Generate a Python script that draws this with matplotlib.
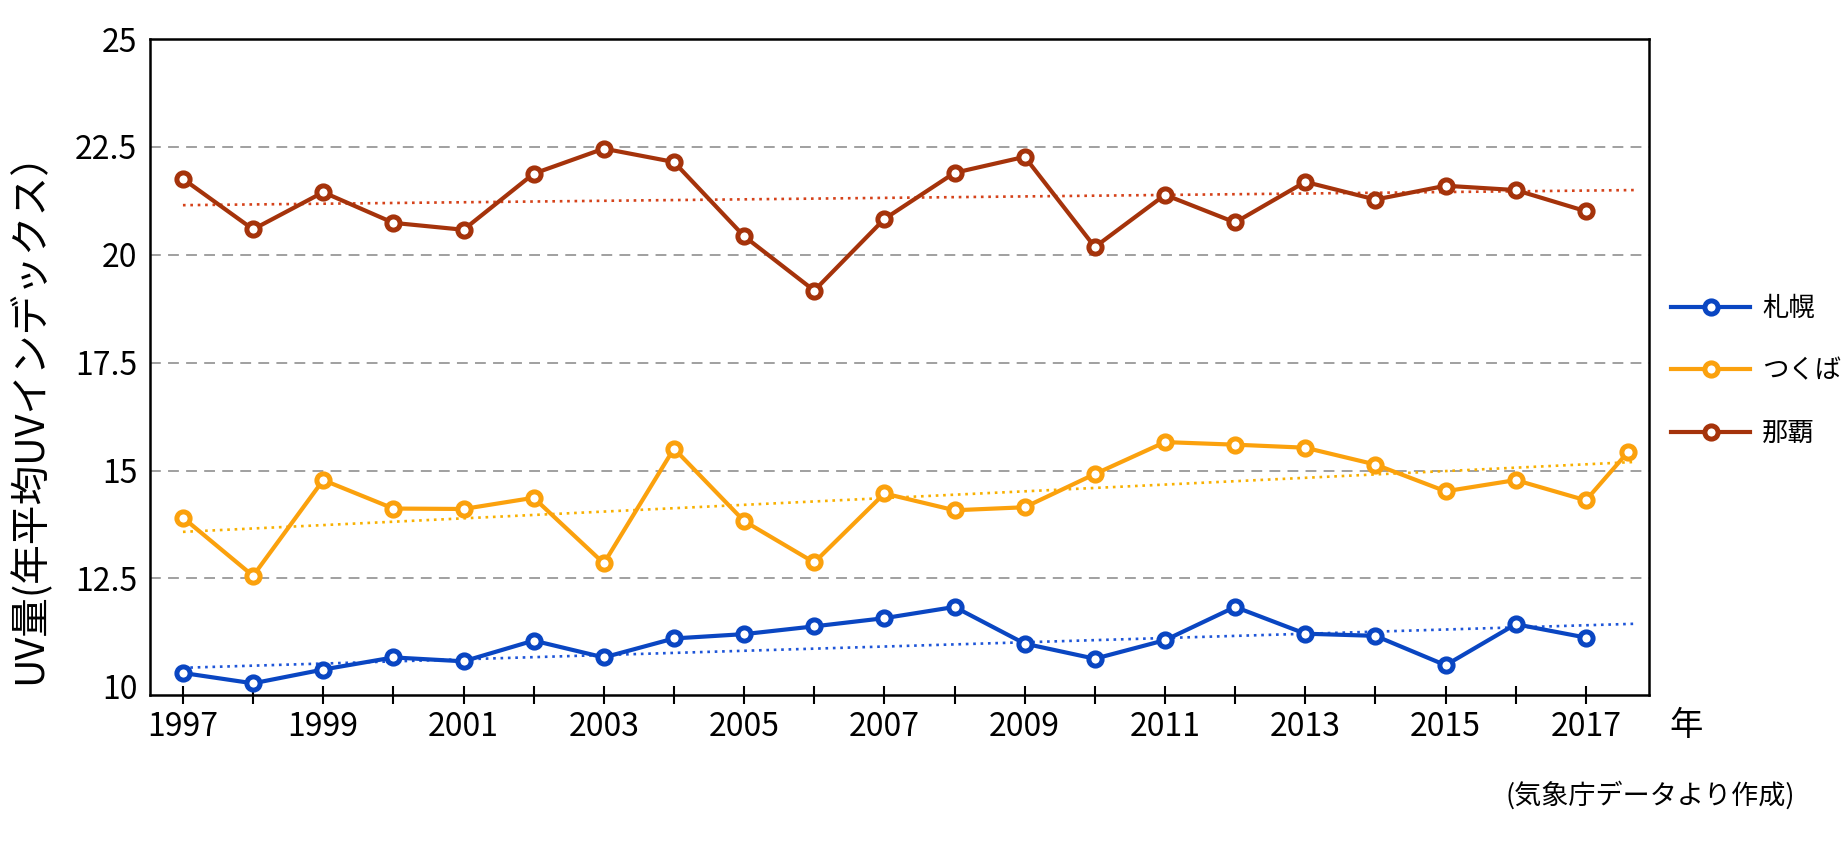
import numpy as np
import matplotlib
matplotlib.use("Agg")
import matplotlib.pyplot as plt

plt.rcParams['font.family'] = ['Noto Sans CJK JP', 'DejaVu Sans']

# Annual mean UV index
years = list(range(1997, 2018))
sapporo = [10.31, 10.07, 10.39, 10.67, 10.58, 11.06, 10.67, 11.11, 11.21, 11.39, 11.58,
           11.84, 10.99, 10.64, 11.07, 11.84, 11.22, 11.17, 10.49, 11.44, 11.13]
tsukuba_years = years + [2017.6]
tsukuba = [13.91, 12.56, 14.78, 14.12, 14.11, 14.37, 12.85, 15.51, 13.83, 12.87, 14.47,
           14.08, 14.15, 14.92, 15.66, 15.60, 15.53, 15.14, 14.52, 14.78, 14.31, 15.43]
naha = [21.76, 20.59, 21.45, 20.74, 20.58, 21.88, 22.46, 22.15, 20.43, 19.17, 20.83,
        21.90, 22.27, 20.18, 21.39, 20.75, 21.69, 21.28, 21.60, 21.50, 21.01]

# trend lines (start / end values)
trend_x = [1997, 2017.7]
sapporo_trend = [10.43, 11.45]
tsukuba_trend = [13.58, 15.20]
naha_trend = [21.15, 21.50]

labels = ['札幌', 'つくば', '那覇']
yticks = [10, 12.5, 15, 17.5, 20, 22.5, 25]
ytick_labels = ['10', '12.5', '15', '17.5', '20', '22.5', '25']

c_blue = '#0a46c2'
c_orange = '#fba10d'
c_red = '#a5330b'

fig = plt.figure(figsize=(18.47, 8.52), dpi=100)
ax = fig.add_axes([0.0812, 0.1843, 0.8116, 0.7699])

# dashed grid
for v in yticks[1:-1]:
    ax.axhline(v, color='#999999', lw=1.3, ls=(0, (6, 4)), zorder=1)

# trend lines
ax.plot(trend_x, sapporo_trend, color='#1e55d8', lw=1.9, ls=(0, (1, 1.8)), zorder=2)
ax.plot(trend_x, tsukuba_trend, color='#f8b000', lw=1.9, ls=(0, (1, 1.8)), zorder=2)
ax.plot(trend_x, naha_trend, color='#d5421a', lw=1.9, ls=(0, (1, 1.8)), zorder=2)

mk = dict(marker='o', ms=9.5, mew=3.6, lw=3, zorder=3)
ax.plot(years, sapporo, color=c_blue, mfc='white', label=labels[0], **mk)
ax.plot(tsukuba_years, tsukuba, color=c_orange, mfc='white', label=labels[1], **mk)
ax.plot(years, naha, color=c_red, mfc='#c2aca6', label=labels[2], **mk)

ax.set_xlim(1996.53, 2017.9)
ax.set_ylim(9.8, 25)
ax.set_yticks(yticks)
ax.set_yticklabels(ytick_labels)
ax.set_xticks(years)
ax.set_xticklabels([str(y) if y % 2 == 1 else '' for y in years])

ax.tick_params(axis='y', length=0, pad=9, labelsize=23)
ax.tick_params(axis='x', direction='inout', length=13, width=1.5, pad=5, labelsize=23)
for s in ax.spines.values():
    s.set_linewidth(1.8)
    s.set_color('black')

fig.text(30 / 1847, 0.521, 'UV量(年平均UVインデックス）', rotation=90,
         ha='center', va='center', fontsize=28.5)
fig.text(1686 / 1847, 1 - 725 / 852, '年', ha='center', va='center', fontsize=24)
fig.text(1650 / 1847, 1 - 795 / 852, '(気象庁データより作成)', ha='center', va='center', fontsize=19.5)

h, l = ax.get_legend_handles_labels()
for hh in h:
    hh.set_markerfacecolor('white')
fig.legend(h, l, loc='center left', bbox_to_anchor=(1671 / 1847, 1 - 371 / 852),
           frameon=False, fontsize=19, handlelength=3.0, labelspacing=1.35,
           handletextpad=0.45, borderpad=0, borderaxespad=0)

fig.savefig('out.png', dpi=100)
